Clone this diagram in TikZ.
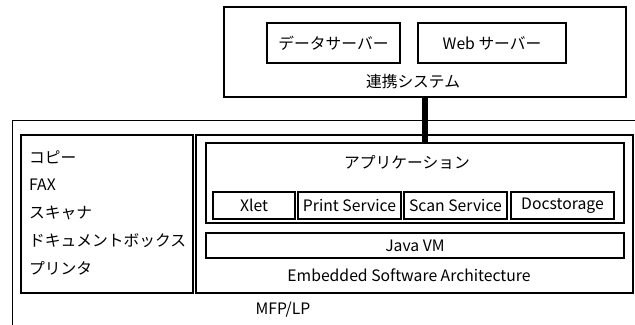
\documentclass[tikz,border=0pt]{standalone}
\usepackage{fontspec}
\setmainfont{Noto Sans CJK JP}
\begin{document}
\begin{tikzpicture}[x=1bp,y=-1bp,
  box/.style={draw, line width=1.1bp, rectangle, inner sep=0pt},
  lbl/.style={inner sep=0pt},
  every node/.append style={font=\fontsize{15.8}{18}\selectfont}]
\useasboundingbox (0,0) rectangle (635,324);
% outer device frame, running off the page to the right and bottom
\begin{scope}
  \clip (0,0) rectangle (635,324);
  \node[box, anchor=north west, minimum width=640bp, minimum height=230bp] (mfp) at (12,120) {};
\end{scope}
% linked system
\node[box, minimum width=402bp, minimum height=90bp] (sys) at (425,52) {};
\node[box, minimum width=133bp, minimum height=40bp] (data) at (333.5,43) {データサーバー};
\node[box, minimum width=148bp, minimum height=40bp] (web) at (492,43) {Web サーバー};
\node[lbl] (syslbl) at (413,82) {連携システム};
% function list
\node[box, minimum width=172bp, minimum height=158bp] (func) at (107,214) {};
\node[lbl, anchor=west] (f1) at (29,157) {コピー};
\node[lbl, anchor=west] (f2) at (29,185) {FAX};
\node[lbl, anchor=west] (f3) at (29,213) {スキャナ};
\node[lbl, anchor=west] (f4) at (29,241) {ドキュメントボックス};
\node[lbl, anchor=west] (f5) at (29,268) {プリンタ};
% software architecture
\node[box, minimum width=437bp, minimum height=158bp] (esa) at (414.5,214) {};
\node[box, minimum width=418bp, minimum height=80bp] (app) at (415,183) {};
\node[lbl] (applbl) at (407,162) {アプリケーション};
\node[box, minimum width=82bp, minimum height=27bp] (xlet) at (254,205.5) {Xlet};
\node[box, minimum width=103bp, minimum height=27bp] (print) at (349.5,205.5) {Print Service};
\node[box, minimum width=103bp, minimum height=27bp] (scan) at (455.5,205.5) {Scan Service};
\node[box, minimum width=103bp, minimum height=27bp] (doc) at (562.5,205.5) {Docstorage};
\node[box, minimum width=418bp, minimum height=25bp] (jvm) at (415,245.5) {Java VM};
\node[lbl] (esalbl) at (409,275) {Embedded Software Architecture};
\node[lbl] (mfplbl) at (283,310) {MFP/LP};
% link between the system and the device
\draw[line width=6bp] (sys.south) -- (sys.south |- app.north);
\end{tikzpicture}
\end{document}
